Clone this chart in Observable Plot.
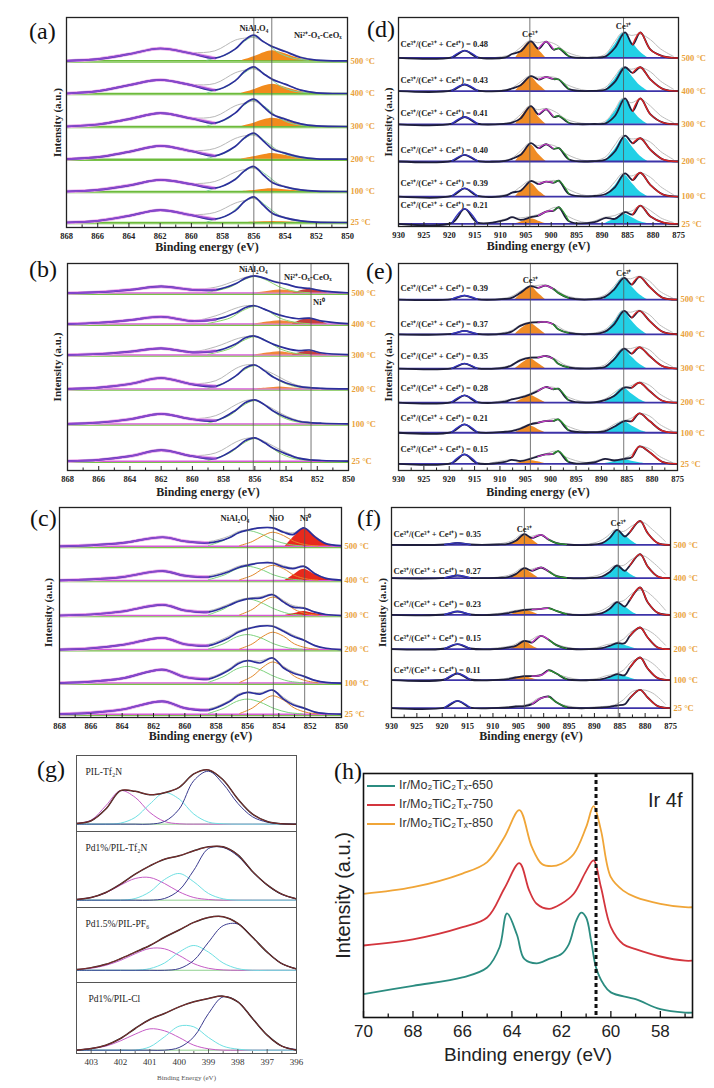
<!DOCTYPE html>
<html><head><meta charset="utf-8">
<script src="https://cdn.jsdelivr.net/npm/d3@7"></script>
<script src="https://cdn.jsdelivr.net/npm/@observablehq/plot@0.6"></script>
<style>
html,body{margin:0;padding:0;background:#fff;}
#fig{position:relative;width:714px;height:1088px;overflow:hidden;background:#fff;}
.panel{position:absolute;}
.panel svg{overflow:visible;max-width:none;}
.letter{position:absolute;font-family:"Liberation Serif","Times New Roman",serif;font-size:24px;line-height:24px;color:#111;}
.leg{position:absolute;font-family:"Liberation Sans",Arial,sans-serif;font-size:12.5px;color:#333;line-height:14px;white-space:nowrap;}
.leg span.sw{display:inline-block;width:28px;height:0;border-top:2px solid;vertical-align:middle;margin-right:4px;}
</style></head>
<body><div id="fig"></div>
<script>
// ---------- shared labels / ticks ----------
const temps = ["500 °C","400 °C","300 °C","200 °C","100 °C","25 °C"];
const niMajor = [868,866,864,862,860,858,856,854,852,850];
const niMinor = [867,865,863,861,859,857,855,853,851];
const ceMajor = [930,925,920,915,910,905,900,895,890,885,880,875];
const ceMinor = [927.5,922.5,917.5,912.5,907.5,902.5,897.5,892.5,887.5,882.5,877.5];

// ---------- panel (a) ----------
const aX = [868,866,864,862,860,858.5,857.2,856.6,856,855.4,854.8,854,853,852,850];
const aBase = [500,402,303,205,108,15];
const aEnv = [
 [0,5,20,37,22,8,35,62,77,58,42,28,10,2,0],
 [0,7,25,41,25,10,38,66,80,60,42,28,10,2,0],
 [0,6,22,40,24,10,40,68,82,60,36,22,8,2,0],
 [0,6,22,40,24,10,38,64,78,55,30,18,6,1,0],
 [0,5,18,35,22,10,36,62,75,50,26,14,5,1,0],
 [0,5,20,37,22,10,35,63,77,52,27,14,5,1,0]];
const aGrey = [
 [0,6,22,38,25,30,62,68,70,58,44,30,12,3,0],
 [0,8,26,42,27,30,62,70,74,60,44,28,11,3,0],
 [0,7,24,41,26,30,62,70,76,60,38,24,9,3,0],
 [0,7,24,41,26,32,62,70,72,56,34,20,8,2,0],
 [0,6,20,36,24,30,58,66,70,52,30,16,6,2,0],
 [0,6,22,38,24,30,58,66,72,54,30,16,6,2,0]];
const aFitX = [859,857.6,856.8,856,855.2,854.4,853.5,852.5];
const aFit = [
 [2,22,52,72,52,24,8,2],[2,24,55,76,55,25,8,2],[2,25,58,78,56,26,8,2],
 [2,24,55,74,52,24,8,2],[2,24,54,72,50,22,7,2],[2,24,55,74,50,22,7,2]];
const aOrX = [856.8,856,855.3,854.8,854.2,853.5,852.8,852];
const aOr = [
 [0,12,25,30,24,13,4,0],[0,11,23,28,22,12,4,0],[0,10,21,25,20,11,3,0],
 [0,7,14,17,13,7,2,0],[0,3,7,8,6,3,1,0],[0,1,2,3,2,1,0,0]];
const aLines = [856.0, 854.85];

// ---------- panel (b) ----------
const bX = [868,866,864,862,860,858.5,857.2,856.6,856,855.4,854.8,854,853.2,852.5,851.7,850];
const bBase = [533,440,347,245,140,28];
const bEnv = [
 [0,3,10,20,10,10,29,45,52,45,35,27,17,14,7,1],
 [0,4,12,22,9,14,34,50,55,45,33,22,16,18,9,1],
 [0,3,10,20,8,12,34,52,57,45,32,20,13,15,6,1],
 [0,4,15,33,14,8,40,64,72,55,35,18,8,4,2,0],
 [0,4,14,30,14,10,42,64,72,58,38,20,8,4,2,0],
 [0,4,15,33,15,8,40,62,70,56,38,22,9,4,2,0]];
const bGrey = [
 [0,3,10,20,12,18,38,48,52,45,37,27,17,14,8,1],
 [0,4,12,22,10,25,48,55,55,45,33,22,16,18,9,1],
 [0,3,10,20,10,25,48,55,57,45,32,20,13,15,6,1],
 [0,4,15,33,16,25,62,72,72,58,45,25,10,5,2,0],
 [0,4,14,30,16,25,58,70,72,60,44,24,10,5,2,0],
 [0,4,15,33,17,25,58,68,70,60,45,26,10,5,2,0]];
const bFit = [
 [2,18,38,50,38,18,6,1],[2,18,40,53,40,18,6,1],[2,19,42,55,42,19,6,1],
 [2,26,54,70,50,24,8,2],[2,26,54,70,52,24,8,2],[2,25,52,68,50,24,8,2]];
const bOrX = [856,855.2,854.4,853.6,852.8];
const bOr = [[0,5,9,6,0],[0,6,10,6,0],[0,6,10,5,0],[0,3,6,3,0],[0,0,0,0,0],[0,0,0,0,0]];
const bRedX = [853.6,853,852.5,852,851.3];
const bRed = [[0,8,12,8,0],[0,12,17,11,0],[0,8,11,7,0],[0,0,0,0,0],[0,0,0,0,0],[0,0,0,0,0]];
const bLines = [856.1, 854.4, 852.4];

// ---------- panel (c) ----------
const cX = [868,866,864,861.4,860,858.5,857.2,856.6,856,855.2,854.4,853.7,853.1,852.4,851.7,851,850];
const cBase = [512,410,305,203,103,10];
const cEnv = [
 [0,3,10,27,15,10,25,40,48,55,55,42,35,55,28,8,2],
 [0,3,10,28,14,10,26,38,45,52,52,40,35,42,20,6,1],
 [0,3,12,32,15,10,30,42,50,52,62,40,25,22,10,3,0],
 [0,4,14,35,16,12,35,52,62,70,70,55,40,28,12,4,0],
 [0,4,14,40,18,12,38,58,67,60,75,45,30,20,8,2,0],
 [0,4,14,38,18,12,36,56,65,60,72,45,28,18,6,2,0]];
const cGrey = [
 [0,3,10,28,17,14,30,44,50,56,56,45,40,55,30,9,2],
 [0,3,10,29,16,14,30,42,48,53,54,44,38,44,22,7,1],
 [0,3,12,33,17,14,34,46,52,56,64,45,30,24,11,3,0],
 [0,4,14,36,18,16,40,56,64,72,72,58,44,30,13,4,0],
 [0,4,14,41,20,16,42,62,68,66,76,50,34,22,9,2,0],
 [0,4,14,39,20,16,40,60,66,64,73,50,32,20,7,2,0]];
const cGreenX = [858.5,857.5,856.7,856,855.2,854.3,853.4,852.5];
const cGreen = [
 [2,18,38,47,38,18,6,1],[2,16,34,42,34,16,5,1],[2,20,42,50,40,20,6,1],
 [2,18,38,45,36,17,5,1],[2,20,42,50,40,20,6,1],[2,18,38,45,36,17,5,1]];
const cNiOX = [856.5,855.7,855,854.4,853.7,853,852.2,851.5];
const cNiO = [
 [2,14,32,42,32,14,4,1],[2,15,35,45,35,15,4,1],[2,18,42,55,42,18,5,1],
 [2,17,40,52,40,17,5,1],[2,20,48,63,48,20,6,1],[2,18,42,55,42,18,5,1]];
const cNi0X = [853.6,853,852.4,851.8,851.1,850.5];
const cNi0 = [[0,30,55,35,10,0],[0,18,33,20,6,0],[0,6,12,7,2,0],[0,0,0,0,0,0],[0,0,0,0,0,0],[0,0,0,0,0,0]];
const cLines = [856.0, 854.35, 852.35];

// ---------- Ce 3d panels (d)(e)(f) ----------
const ceX = [930,919.5,917,914.5,909,907.7,906,904,902.5,901,899.5,898.5,896.5,891.5,889.3,887.5,885.5,884,882.5,880.5,878,875];
const ceOrX = [907,905.5,904,902.5,901];
const ceCyX = [889.5,887.5,885.7,884,882.5,881];
const ceGreyX = [912,908,906,904.3,902.7,901,899,897,893,889.5,887.5,886,884.3,882.5,880.5,878.5,876];

const dBase = [508,408,308,196,90,8];
const dRatio = ["0.48","0.43","0.41","0.40","0.39","0.21"];
const dEnv = [
 [0,2,22,2,2,12,20,50,28,49,25,29,5,1,5,30,77,40,77,25,5,0],
 [0,2,20,2,2,8,18,45,35,42,36,35,6,1,5,28,72,55,72,35,6,0],
 [0,2,22,2,2,5,18,55,30,45,22,25,4,1,3,25,78,40,78,30,5,0],
 [0,2,20,2,2,8,20,55,40,52,38,40,6,1,6,30,78,55,70,35,6,0],
 [0,2,25,2,3,12,18,47,38,45,42,48,8,2,8,28,70,50,72,35,6,0],
 [0,3,45,4,12,20,12,20,25,37,40,50,8,5,18,15,35,28,55,22,4,0]];
const dGrey = [
 [0,10,32,52,46,50,40,18,2,10,50,77,68,72,55,27,5],
 [0,8,28,46,42,44,40,20,2,10,45,72,66,72,58,30,6],
 [0,6,30,55,44,48,36,15,2,8,45,78,65,76,55,26,5],
 [0,8,32,55,48,52,45,22,2,12,50,78,68,70,58,30,6],
 [0,10,30,48,44,46,48,25,3,14,45,70,62,72,58,30,6],
 [2,18,18,22,28,38,50,25,4,20,25,35,38,55,40,18,4]];
const dOr = [[0,30,50,25,0],[0,25,42,20,0],[0,30,55,22,0],[0,30,50,22,0],[0,25,40,18,0],[0,8,15,8,0]];
const dCy = [[0,40,77,45,18,0],[0,36,72,42,16,0],[0,38,78,42,16,0],[0,36,72,42,16,0],[0,32,65,38,14,0],[0,15,30,18,6,0]];
const dLines = [904.2, 885.8];

const eBase = [512,408,305,203,113,20];
const eRatio = ["0.39","0.37","0.35","0.28","0.21","0.15"];
const eEnv = [
 [0,1,12,1,2,5,20,40,35,42,32,20,5,1,8,30,65,45,68,38,6,0],
 [0,1,10,1,3,8,25,35,36,37,30,15,4,1,8,30,70,50,70,40,8,0],
 [0,1,15,1,3,10,25,33,33,38,30,15,4,1,5,28,60,45,64,38,8,0],
 [0,2,22,2,3,10,15,25,35,47,40,42,8,1,8,20,45,45,60,35,6,0],
 [0,2,25,2,3,5,12,25,30,35,35,40,8,2,5,18,35,35,58,35,6,0],
 [0,2,28,2,6,12,8,15,22,28,30,38,6,4,15,10,15,20,52,35,6,0]];
const eGrey = [
 [0,8,25,40,42,44,30,12,2,12,40,65,62,70,55,25,5],
 [0,10,28,36,38,38,28,10,2,12,40,70,66,72,58,28,6],
 [0,10,28,34,36,38,28,10,2,10,38,60,60,66,56,28,6],
 [0,10,18,26,38,47,44,20,2,10,30,45,50,62,52,26,5],
 [0,6,15,26,32,36,42,22,3,8,25,35,42,58,50,25,5],
 [2,12,10,16,24,30,38,20,4,15,12,15,25,52,45,22,4]];
const eOr = [[0,22,40,20,0],[0,20,32,18,0],[0,18,30,16,0],[0,12,22,12,0],[0,12,20,10,0],[0,6,10,6,0]];
const eCy = [[0,32,65,38,15,0],[0,35,70,40,16,0],[0,30,60,35,14,0],[0,22,45,26,10,0],[0,17,35,20,8,0],[0,6,12,8,3,0]];
const eLines = [904.0, 885.6];

const fX = [930,919.5,917,914.5,909,907,905.5,903.8,902.3,900.5,899,897.5,895.5,891,888.5,887,885.5,884,883,881,879.5,877.5,875];
const fBase = [518,418,308,205,112,28];
const fRatio = ["0.35","0.27","0.23","0.15","0.11"];
const fEnv = [
 [0,1,6,1,1,3,12,32,20,30,15,5,1,0,5,20,45,25,38,72,35,5,0],
 [0,1,8,1,1,3,12,30,22,32,20,6,1,0,5,18,38,22,38,72,35,5,0],
 [0,1,10,1,1,5,10,15,16,18,20,12,2,0,5,18,38,25,45,82,38,6,0],
 [0,2,15,2,1,5,10,25,20,40,28,12,2,0,3,10,18,18,40,65,35,5,0],
 [0,2,20,2,1,3,8,12,12,15,30,20,3,0,3,10,18,15,38,68,35,6,0],
 [0,2,22,2,1,2,5,6,12,30,35,18,3,0,2,4,8,12,30,55,32,6,0]];
const fGrey = [
 [0,5,14,32,25,30,18,5,1,8,25,45,40,58,68,45,10],
 [0,5,14,30,26,32,22,6,1,8,22,38,38,58,68,48,12],
 [0,6,12,16,17,18,20,10,1,8,22,38,42,65,75,55,14],
 [0,6,12,25,26,40,28,12,1,5,14,18,30,55,62,48,12],
 [0,4,9,12,13,15,28,16,2,5,14,18,30,58,65,50,12],
 [0,3,6,8,14,30,33,14,2,4,6,10,25,50,55,45,12]];
const fOrX = [906.5,905,903.8,902.5,901];
const fOr = [[0,18,32,18,0],[0,16,30,16,0],[0,10,15,9,0],[0,14,25,12,0],[0,7,12,6,0],[0,0,0,0,0]];
const fCyX = [888.5,887,885.5,884,882.5,881.5];
const fCy = [[0,22,45,28,10,0],[0,18,38,24,8,0],[0,18,38,24,8,0],[0,9,18,12,4,0],[0,9,18,12,4,0],[0,0,0,0,0,0]];
const fLines = [903.8, 885.3];

// ---------- panel (g) N 1s ----------
const gX = [403.5,403,402.5,402,401.5,401,400.5,400,399.5,399,398.5,398,397.5,397,396.5,396];
const gNames = ["PIL-Tf₂N","Pd1%/PIL-Tf₂N","Pd1.5%/PIL-PF₆","Pd1%/PIL-Cl"];
const gEnv = [
 [2,10,45,100,98,88,94,110,150,162,132,75,30,8,1,0],
 [2,8,23,48,78,103,123,133,148,160,160,136,86,46,18,4],
 [2,8,18,35,55,75,100,122,145,160,162,142,100,55,20,4],
 [0,5,15,35,65,92,110,130,145,155,162,145,95,45,12,0]];
const gMag = [
 [2,12,55,100,80,35,8,1,0,0,0,0,0,0,0,0],
 [2,8,22,45,65,68,50,25,8,2,0,0,0,0,0,0],
 [2,6,15,30,50,66,65,45,20,6,1,0,0,0,0,0],
 [0,5,12,28,48,64,58,38,15,4,0,0,0,0,0,0]];
const gCyan = [
 [0,0,0,3,20,60,94,75,30,6,1,0,0,0,0,0],
 [0,0,0,0,5,25,62,80,55,20,4,0,0,0,0,0],
 [0,0,0,0,0,5,22,55,75,55,22,5,0,0,0,0],
 [0,0,0,0,0,10,40,72,70,38,12,3,0,0,0,0]];
const gNavy = [
 [0,0,0,0,0,0,8,45,130,158,120,62,22,6,1,0],
 [0,0,0,0,0,0,5,30,90,155,158,132,85,45,17,4],
 [0,0,0,0,0,0,0,5,30,85,135,140,100,55,20,4],
 [0,0,0,0,0,0,0,8,40,110,160,145,95,45,12,2]];
const gMajor = [403,402,401,400,399,398,397,396];
const gMinor = [402.5,401.5,400.5,399.5,398.5,397.5,396.5];

// ---------- panel (h) Ir 4f ----------
const hNames = ["Ir/Mo₂TiC₂Tₓ-650","Ir/Mo₂TiC₂Tₓ-750","Ir/Mo₂TiC₂Tₓ-850"];
const hX650 = [70,68,66,65,64.5,64.2,63.8,63.5,63,62.5,62,61.7,61.4,61.2,61,60.8,60.6,60.3,60,59,58,57,56.7];
const h650 = [9.6,13,16.4,20.5,28.8,42.7,34,24,22.2,24,26,30,39.7,43,41,31.5,20.5,13.7,10.3,7.5,3.4,2,2];
const hX750 = [70,68,66,65,64.3,63.7,63.3,63,62.5,62,61.5,61,60.7,60.4,60,59.5,59,58,57,56.7];
const h750 = [29.5,32,37,41,53,63.3,52,46.6,44.5,46.6,50.7,60,64.4,53.4,37,30,28,25,23.3,23.3];
const hX850 = [70,68,66,65,64.3,63.7,63.2,62.8,62.4,62,61.5,61,60.7,60.4,60,59.5,59,58,57,56.7];
const h850 = [50.7,53.4,59,63.7,74,85,70,63,62,63,67,78,86.6,76.7,57.5,52,49.3,46.6,45.2,45.2];
const hRef = [60.6];
const hMajor = [70,68,66,64,62,60,58];
const hMinor = [69,67,65,63,61,59,57];

// ================= drawing =================
const fig = document.getElementById("fig");
const SERIF = "'Liberation Serif','Times New Roman',serif";
const SANS = "'Liberation Sans',Arial,sans-serif";
const CR = "catmull-rom";
function place(node, left, top) {
  const d = document.createElement("div");
  d.className = "panel"; d.style.left = left + "px"; d.style.top = top + "px";
  d.appendChild(node); fig.appendChild(d);
}
function letter(t, left, top) {
  const d = document.createElement("div");
  d.className = "letter"; d.textContent = t; d.style.left = left + "px"; d.style.top = top + "px";
  fig.appendChild(d);
}
const rowsOf = (xs, vals, base) => vals.flatMap((v, s) => v.map((h, j) => {
  const b = base ? base[s] : 0; return {s, x: xs[j], b, y: b + h};
}));
function bottomAxis(major, minor, innerH, o) {
  return [
    Plot.tickX(major, {x: d => d, insetTop: innerH - o.major, stroke: o.stroke, strokeWidth: o.sw}),
    Plot.tickX(minor, {x: d => d, insetTop: innerH - o.minor, stroke: o.stroke, strokeWidth: o.sw}),
    Plot.axisX({ticks: major, tickSize: 0, tickPadding: o.pad, fontSize: o.fs, fontWeight: o.fw, color: o.color, label: null, tickFormat: d => String(d)})
  ];
}
const fillArea = (rows, color) => Plot.areaY(rows, {x: "x", y1: "b", y2: "y", z: "s", fill: color, curve: CR, clip: true});
const yLabel = (t, dx, fs, fw) => Plot.text([t], {frameAnchor: "left", rotate: -90, dx, textAnchor: "middle", lineAnchor: "middle", fontSize: fs, fontWeight: fw, fill: "#222"});

function niPanel(c) {
  const innerH = c.height - c.mt - c.mb;
  const env = rowsOf(c.xs, c.env, c.base);
  const L = {x: "x", y: "y", z: "s", curve: CR, clip: true};
  const marks = [
    Plot.ruleY(c.base, {stroke: c.baseStroke, strokeWidth: 1.5}),
    Plot.ruleY(c.base, {stroke: "#79c24a", strokeWidth: 1.1, dy: 1.3})
  ];
  c.fills.forEach(f => marks.push(fillArea(rowsOf(f.xs, f.vals, c.base), f.color)));
  c.lines.forEach(l => marks.push(Plot.line(rowsOf(l.xs, l.vals, c.base), {...L, stroke: l.color, strokeWidth: 1})));
  marks.push(
    Plot.line(rowsOf(c.xs, c.grey, c.base), {...L, stroke: "#b8b8b8", strokeWidth: 1}),
    Plot.line(env.filter(d => d.x >= 858.5), {...L, stroke: "#eaa6ea", strokeWidth: 3.4}),
    Plot.line(env, {...L, stroke: "#2b2f9c", strokeWidth: 1.7}),
    Plot.line(env.filter(d => d.x >= 858.5), {...L, stroke: "#8c46cf", strokeWidth: 1.6}),
    Plot.ruleX(c.vlines, {stroke: "#555", strokeWidth: 0.8}),
    Plot.text(c.notes, {x: "x", y: "y", text: "t", fontSize: 8.5, fontWeight: "bold", fill: "#222"}),
    ...bottomAxis(niMajor, niMinor, innerH, {major: 4, minor: 2.5, stroke: "#222", sw: 1, pad: 5, fs: 8.5, fw: "bold", color: "#222"}),
    Plot.frame({stroke: "#222", strokeWidth: 1.3}),
    Plot.text(temps, {frameAnchor: "right", y: (d, i) => c.base[i], dx: 3, textAnchor: "start", fill: "#e9a23b", fontSize: 8.5, fontWeight: "bold"}),
    yLabel("Intensity (a.u.)", c.ylabDx, 11, "bold"),
    Plot.text(["Binding energy (eV)"], {frameAnchor: "bottom", dy: c.xlabDy, fontSize: 12, fontWeight: "bold", fill: "#222"})
  );
  return Plot.plot({width: c.width, height: c.height, marginLeft: c.ml, marginRight: c.mr, marginTop: c.mt, marginBottom: c.mb,
    x: {domain: [868, 850]}, y: {domain: c.yDomain, axis: null},
    style: {fontFamily: SERIF, background: "transparent", overflow: "visible", color: "#222"}, marks});
}

function cePanel(c) {
  const innerH = c.height - c.mt - c.mb;
  const env = rowsOf(c.xs, c.env, c.base);
  const seg = r => env.filter(d => d.x <= r[0] && d.x >= r[1]);
  const L = {x: "x", y: "y", z: "s", curve: CR, clip: true};
  const marks = [
    fillArea(rowsOf(c.orX, c.orange, c.base), "#f08c25"),
    fillArea(rowsOf(c.cyX, c.cyan, c.base), "#22d0e6"),
    Plot.line(rowsOf(ceGreyX, c.grey, c.base), {...L, stroke: "#bdbdbd", strokeWidth: 1}),
    Plot.ruleY(c.base, {stroke: "#3d33a8", strokeWidth: 1.8}),
    Plot.line(env, {...L, stroke: "#1e1e3c", strokeWidth: 1.8}),
    Plot.line(seg(c.red), {...L, stroke: "#d92323", strokeWidth: 1.4}),
    Plot.line(seg(c.mag), {...L, stroke: "#c83cc8", strokeWidth: 1.2}),
    Plot.line(seg(c.green), {...L, stroke: "#2c9a2c", strokeWidth: 1.2}),
    Plot.line(seg(c.navy), {...L, stroke: "#3535c0", strokeWidth: 1.4}),
    Plot.ruleX(c.vlines, {stroke: "#555", strokeWidth: 0.8}),
    Plot.text(c.ratios, {frameAnchor: "left", y: (d, i) => c.base[i] + c.ratioOff[i], dx: 2, textAnchor: "start", fontSize: 8.5, fontWeight: "bold", fill: "#222", text: d => `Ce³⁺/(Ce³⁺ + Ce⁴⁺) = ${d}`}),
    Plot.text(["Ce³⁺", "Ce³⁺"], {x: c.vlines, y: c.ceLabY, fontSize: 8.5, fontWeight: "bold", fill: "#222"}),
    ...bottomAxis(ceMajor, ceMinor, innerH, {major: 4, minor: 2.5, stroke: "#222", sw: 1, pad: 5, fs: 8.5, fw: "bold", color: "#222"}),
    Plot.frame({stroke: "#222", strokeWidth: 1.3}),
    Plot.text(temps, {frameAnchor: "right", y: (d, i) => c.base[i], dx: 3, textAnchor: "start", fill: "#e9a23b", fontSize: 8.5, fontWeight: "bold"}),
    yLabel("Intensity (a.u.)", c.ylabDx, 11, "bold"),
    Plot.text(["Binding energy (eV)"], {frameAnchor: "bottom", dy: c.xlabDy, fontSize: 12, fontWeight: "bold", fill: "#222"})
  ];
  return Plot.plot({width: c.width, height: c.height, marginLeft: c.ml, marginRight: c.mr, marginTop: c.mt, marginBottom: c.mb,
    x: {domain: [930, 875]}, y: {domain: c.yDomain, axis: null},
    style: {fontFamily: SERIF, background: "transparent", overflow: "visible", color: "#222"}, marks});
}

// (a)
place(niPanel({xs: aX, base: aBase, env: aEnv, grey: aGrey, baseStroke: "#6dbb3c",
  fills: [{xs: aOrX, vals: aOr, color: "#f28b1c"}],
  lines: [{xs: aFitX, vals: aFit, color: "#7fd39a"}],
  vlines: aLines,
  notes: [{x: 856.0, y: 598, t: "NiAl₂O₄"}, {x: 851.9, y: 577, t: "Ni²⁺-Oₓ-CeOₓ"}],
  width: 380, height: 260, ml: 66, mr: 33, mt: 17, mb: 33, yDomain: [0, 630], ylabDx: -9, xlabDy: 23}), 0, 0);
// (b)
place(niPanel({xs: bX, base: bBase, env: bEnv, grey: bGrey, baseStroke: "#d85bd8",
  fills: [{xs: bOrX, vals: bOr, color: "#f0883a"}, {xs: bRedX, vals: bRed, color: "#c8403c"}],
  lines: [{xs: aFitX, vals: bFit, color: "#8bd46a"}],
  vlines: bLines,
  notes: [{x: 856.1, y: 605, t: "NiAl₂O₄"}, {x: 852.6, y: 582, t: "Ni²⁺-Oₓ-CeOₓ"}, {x: 851.9, y: 505, t: "Ni⁰"}],
  width: 380, height: 260, ml: 67, mr: 32, mt: 23, mb: 30, yDomain: [0, 622], ylabDx: -10, xlabDy: 25}), 0, 240);
// (c)
place(niPanel({xs: cX, base: cBase, env: cEnv, grey: cGrey, baseStroke: "#d85bd8",
  fills: [{xs: cNi0X, vals: cNi0, color: "#e8291c"}],
  lines: [{xs: cGreenX, vals: cGreen, color: "#7ed37e"}, {xs: cNiOX, vals: cNiO, color: "#e38a2e"}],
  vlines: cLines,
  notes: [{x: 856.8, y: 595, t: "NiAl₂O₄"}, {x: 854.15, y: 595, t: "NiO"}, {x: 852.3, y: 595, t: "Ni⁰"}],
  width: 380, height: 265, ml: 59, mr: 39, mt: 27, mb: 28, yDomain: [0, 628], ylabDx: -11, xlabDy: 22}), 0, 480);

// (d)
place(cePanel({xs: ceX, base: dBase, env: dEnv, grey: dGrey, orX: ceOrX, orange: dOr, cyX: ceCyX, cyan: dCy,
  red: [884, 875], mag: [902.5, 899.5], green: [899.5, 896.5], navy: [919.5, 914.5],
  vlines: dLines, ceLabY: [580, 605], ratios: dRatio, ratioOff: [42, 32, 32, 34, 40, 55],
  width: 357, height: 260, ml: 41, mr: 36, mt: 17, mb: 34, yDomain: [0, 630], ylabDx: -10, xlabDy: 23}), 357, 0);
// (e)
place(cePanel({xs: ceX, base: eBase, env: eEnv, grey: eGrey, orX: ceOrX, orange: eOr, cyX: ceCyX, cyan: eCy,
  red: [884, 875], mag: [902.5, 899.5], green: [899.5, 896.5], navy: [919.5, 914.5],
  vlines: eLines, ceLabY: [570, 590], ratios: eRatio, ratioOff: [33, 30, 37, 44, 42, 43],
  width: 357, height: 260, ml: 41, mr: 37, mt: 23, mb: 30, yDomain: [0, 620], ylabDx: -10, xlabDy: 25}), 357, 240);
// (f)
place(cePanel({xs: fX, base: fBase, env: fEnv, grey: fGrey, orX: fOrX, orange: fOr, cyX: fCyX, cyan: fCy,
  red: [883, 875], mag: [902.3, 899], green: [899, 895.5], navy: [919.5, 914.5],
  vlines: fLines, ceLabY: [565, 582], ratios: fRatio, ratioOff: [32, 22, 32, 33, 30],
  width: 357, height: 265, ml: 34, mr: 44, mt: 27, mb: 28, yDomain: [0, 630], ylabDx: -9, xlabDy: 22}), 357, 480);

// (g) four stacked sub-panels
const gTops = [755, 831, 907, 982];
const gHeights = [76, 76, 75, 71];
const gDomains = [[-22, 205], [-22, 206], [-37, 190], [-10, 203]];
const gLabDx = [9, 9, 9, 12];
gNames.forEach((name, i) => {
  const last = i === gNames.length - 1;
  const mb = last ? 36 : 0;
  const one = v => rowsOf(gX, [v], null);
  const L = {x: "x", y: "y", curve: CR, clip: true};
  const marks = [
    Plot.ruleY([0], {stroke: "#8fd18f", strokeWidth: 1}),
    Plot.line(one(gMag[i]), {...L, stroke: "#c65cc6", strokeWidth: 1}),
    Plot.line(one(gCyan[i]), {...L, stroke: "#6fe0e3", strokeWidth: 1}),
    Plot.line(one(gNavy[i]), {...L, stroke: "#3b3b8f", strokeWidth: 1}),
    Plot.line(one(gEnv[i]), {...L, stroke: "#222", strokeWidth: 1.5}),
    Plot.line(one(gEnv[i]), {...L, stroke: "#b03030", strokeWidth: 0.7}),
    Plot.frame({stroke: "#555", strokeWidth: 1}),
    Plot.text([name], {frameAnchor: "top-left", dx: gLabDx[i], dy: 13, fontSize: 9.5, fill: "#222", textAnchor: "start"})
  ];
  if (last) marks.push(
    ...bottomAxis(gMajor, gMinor, gHeights[i], {major: 4, minor: 2, stroke: "#444", sw: 0.8, pad: 5.5, fs: 9, fw: "normal", color: "#333"}),
    Plot.text(["Binding Energy (eV)"], {frameAnchor: "bottom", dy: 26, fontSize: 7, fill: "#555"})
  );
  place(Plot.plot({width: 306, height: gHeights[i] + mb, marginLeft: 76, marginRight: 10, marginTop: 0, marginBottom: mb,
    x: last ? {domain: [403.5, 396]} : {domain: [403.5, 396], axis: null}, y: {domain: gDomains[i], axis: null},
    style: {fontFamily: SERIF, background: "transparent", overflow: "visible"}, marks}), 0, gTops[i]);
});

// (h)
const hRows = [
  ...hX650.map((x, i) => ({s: hNames[0], x, y: h650[i]})),
  ...hX750.map((x, i) => ({s: hNames[1], x, y: h750[i]})),
  ...hX850.map((x, i) => ({s: hNames[2], x, y: h850[i]}))];
const hColors = ["#2b8c80", "#d3353d", "#f0a537"];
place(Plot.plot({width: 394, height: 348, marginLeft: 43, marginRight: 22, marginTop: 33, marginBottom: 71,
  x: {domain: [70, 56.7]}, y: {domain: [0, 100], axis: null}, color: {domain: hNames, range: hColors},
  style: {fontFamily: SANS, background: "transparent", overflow: "visible"},
  marks: [
    Plot.line(hRows, {x: "x", y: "y", z: "s", stroke: "s", strokeWidth: 1.8, curve: CR, clip: true}),
    Plot.ruleX(hRef, {stroke: "#111", strokeWidth: 3, strokeDasharray: "4,3"}),
    ...bottomAxis(hMajor, hMinor, 244, {major: 6, minor: 3.5, stroke: "#111", sw: 1.3, pad: 7, fs: 17, fw: "normal", color: "#222"}),
    Plot.frame({stroke: "#111", strokeWidth: 1.6}),
    Plot.text(["Ir 4f"], {frameAnchor: "top-right", dx: -10, dy: 19, fontSize: 20, textAnchor: "end", fill: "#222"}),
    yLabel("Intensity (a.u.)", -20, 20, "normal"),
    Plot.text(["Binding energy (eV)"], {frameAnchor: "bottom", dy: 43, fontSize: 19, fill: "#222"})
  ]}), 320, 740);
// legend (h)
const legY = [785, 804, 823];
hNames.forEach((n, i) => {
  const d = document.createElement("div");
  d.className = "leg"; d.style.left = "367px"; d.style.top = (legY[i] - 7) + "px";
  d.innerHTML = `<span class="sw" style="border-color:${hColors[i]}"></span>`;
  d.appendChild(document.createTextNode(n));
  fig.appendChild(d);
});

// panel letters
letter("(a)", 29, 19); letter("(d)", 367, 17);
letter("(b)", 29, 257); letter("(e)", 366, 259);
letter("(c)", 30, 506); letter("(f)", 357, 506);
letter("(g)", 37, 757); letter("(h)", 334, 759);
</script></body></html>
